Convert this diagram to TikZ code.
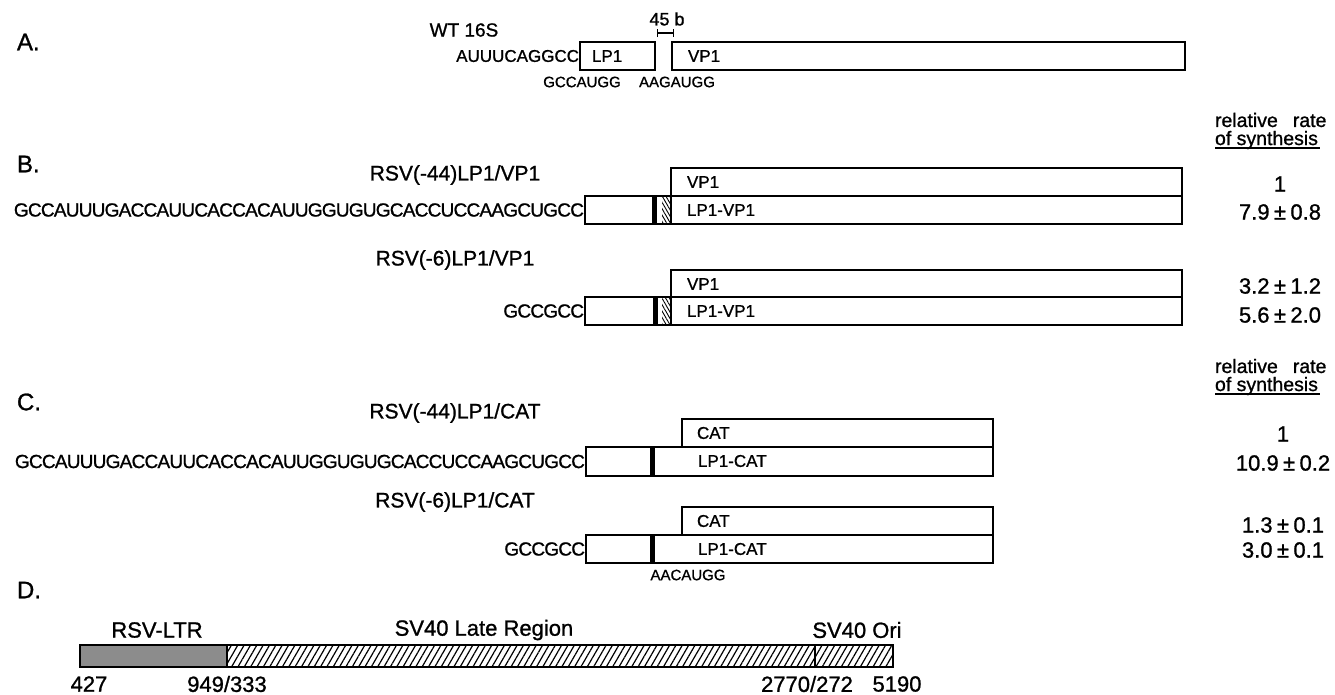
\documentclass[tikz,border=0pt]{standalone}
\usepackage{fontspec}
\setmainfont{Liberation Sans}[FakeBold=1.0]
\newfontfamily\seqfont{Liberation Sans}[LetterSpace=-4,FakeBold=1.0]
\usetikzlibrary{patterns,patterns.meta,arrows.meta}
\newcommand\fs[1]{\fontsize{#1pt}{#1pt}\selectfont}
\begin{document}
\begin{tikzpicture}[x=1pt,y=-1pt,
  every node/.style={inner sep=0pt,outer sep=0pt},
  sec/.style={font=\fs{24},anchor=west},
  lbl/.style={font=\fs{21}},
  inbox/.style={font=\fs{17},anchor=west},
  small/.style={font=\fs{15}},
  seq/.style={font=\seqfont\fs{19},anchor=east},
  val/.style={font=\fs{22}},
  rr/.style={font=\fs{19.5},anchor=west},
  uline/.style={line width=1.3pt},
  box/.style={draw,line width=1.6pt,anchor=north west},
  bar/.style={fill=black,anchor=north west,minimum width=4.5pt,minimum height=28pt},
  hatch/.style={anchor=north west,minimum width=9pt,minimum height=28pt,
     pattern={Lines[angle=-60,distance=3.2pt,line width=0.9pt]}},
  numl/.style={font=\fs{22}}
]
\useasboundingbox (0,0) rectangle (1335,694);
\fill[white] (0,0) rectangle (1335,694);

% ---------------- A ----------------
\node[sec] (A) at (17,42) {A.};
\node[font=\fs{19}] (wt) at (464,30) {WT 16S};
\node[box,minimum width=75pt,minimum height=28pt] (lp1) at (580,42) {};
\node[inbox] (lp1t) at (592,56) {LP1};
\node[box,minimum width=513pt,minimum height=28pt] (vp1) at (672,42) {};
\node[inbox] (vp1t) at (688,56) {VP1};
\node[font=\fs{17},anchor=east] (lead) at ([xshift=-1pt]lp1.west) {AUUUCAGGCC};
\node[small] (g1) at (582,82) {GCCAUGG};
\node[small] (g2) at (677,82) {AAGAUGG};
\node[font=\fs{18}] (b45) at (667,19) {45 b};
\coordinate (br1) at (657,33);
\coordinate (br2) at (674,33);
\draw[line width=1.3pt,{Bar[width=8pt]}-{Bar[width=8pt]}] (br1) -- (br2);

% ---------------- B ----------------
\node[sec] (B) at (17,164) {B.};
\node[rr] (rrB1) at (1215,120) {relative\hskip 15pt rate};
\node[rr] (rrB2) at (1215,140) {of synthesis};
\draw[uline] ([yshift=-3pt]rrB2.base west) -- ([yshift=-3pt,xshift=2pt]rrB2.base east);

\node[lbl] (lB1) at (455,175) {RSV(-44)LP1/VP1};
\node[box,minimum width=511pt,minimum height=28pt] (vB1) at (671,168) {};
\node[box,minimum width=597pt,minimum height=28pt] (lvB1) at (585,196) {};
\node[bar] (barB1) at (652,196) {};
\node[hatch] (hB1) at (662,196) {};
\draw[line width=1.6pt] (vB1.south west) -- (vB1.south west |- lvB1.south);
\node[inbox] (tB1a) at (687,182) {VP1};
\node[inbox] (tB1b) at (687,210) {LP1-VP1};
\node[seq] (sB1) at ([xshift=-1pt]lvB1.west) {GCCAUUUGACCAUUCACCACAUUGGUGUGCACCUCCAAGCUGCC};
\node[val] (vB1a) at (1280,184) {1};
\node[val] (vB1b) at (1280,212) {7.9\hspace{0.2em}±\hspace{0.2em}0.8};

\node[lbl] (lB2) at (455,260) {RSV(-6)LP1/VP1};
\node[box,minimum width=511pt,minimum height=27pt] (vB2) at (671,270) {};
\node[box,minimum width=597pt,minimum height=28pt] (lvB2) at (585,297) {};
\node[bar] (barB2) at (653,297) {};
\node[hatch] (hB2) at (662,297) {};
\draw[line width=1.6pt] (vB2.south west) -- (vB2.south west |- lvB2.south);
\node[inbox] (tB2a) at (687,284) {VP1};
\node[inbox] (tB2b) at (687,311) {LP1-VP1};
\node[seq] (sB2) at ([xshift=-1pt]lvB2.west) {GCCGCC};
\node[val] (vB2a) at (1280,286) {3.2\hspace{0.2em}±\hspace{0.2em}1.2};
\node[val] (vB2b) at (1280,315) {5.6\hspace{0.2em}±\hspace{0.2em}2.0};

% ---------------- C ----------------
\node[sec] (C) at (17,402) {C.};
\node[rr] (rrC1) at (1215,366) {relative\hskip 15pt rate};
\node[rr] (rrC2) at (1215,386) {of synthesis};
\draw[uline] ([yshift=-3pt]rrC2.base west) -- ([yshift=-3pt,xshift=2pt]rrC2.base east);

\node[lbl] (lC1) at (455,413) {RSV(-44)LP1/CAT};
\node[box,minimum width=311pt,minimum height=28pt] (cC1) at (682,419) {};
\node[box,minimum width=407pt,minimum height=29pt] (lcC1) at (586,447) {};
\node[bar,minimum height=29pt] (barC1) at (650,447) {};
\node[inbox] (tC1a) at (697,433) {CAT};
\node[inbox] (tC1b) at (698,461) {LP1-CAT};
\node[seq] (sC1) at ([xshift=-1pt]lcC1.west) {GCCAUUUGACCAUUCACCACAUUGGUGUGCACCUCCAAGCUGCC};
\node[val] (vC1a) at (1283,434) {1};
\node[val] (vC1b) at (1283,463) {10.9\hspace{0.2em}±\hspace{0.2em}0.2};

\node[lbl] (lC2) at (455,502) {RSV(-6)LP1/CAT};
\node[box,minimum width=311pt,minimum height=28pt] (cC2) at (682,507) {};
\node[box,minimum width=407pt,minimum height=28pt] (lcC2) at (586,535) {};
\node[bar] (barC2) at (650,535) {};
\node[inbox] (tC2a) at (697,521) {CAT};
\node[inbox] (tC2b) at (698,549) {LP1-CAT};
\node[seq] (sC2) at ([xshift=-1pt]lcC2.west) {GCCGCC};
\node[small] (g3) at (688,575) {AACAUGG};
\node[val] (vC2a) at (1283,525) {1.3\hspace{0.2em}±\hspace{0.2em}0.1};
\node[val] (vC2b) at (1283,550) {3.0\hspace{0.2em}±\hspace{0.2em}0.1};

% ---------------- D ----------------
\node[sec] (D) at (17,590) {D.};
\node[numl] (dl1) at (157,630) {RSV-LTR};
\node[numl] (dl2) at (484,630) {SV40 Late Region};
\node[numl] (dl3) at (857,630) {SV40 Ori};
\node[anchor=north west,minimum width=147pt,minimum height=22pt,fill=black!45] (ltr) at (80,645) {};
\node[anchor=north west,minimum width=666pt,minimum height=22pt,
      pattern={Lines[angle=60,distance=5.5pt,line width=1.2pt]}] (late) at (227,645) {};
\draw[line width=1.8pt] (ltr.north west) rectangle (late.south east);
\draw[line width=1.2pt] (ltr.north east) -- (ltr.south east);
\draw[line width=1.2pt] (815,645) -- (815,667);
\node[numl] (n1) at (89,684) {427};
\node[numl] (n2) at (227,684) {949/333};
\node[numl] (n3) at (807,684) {2770/272};
\node[numl] (n4) at (897,684) {5190};
\end{tikzpicture}
\end{document}
